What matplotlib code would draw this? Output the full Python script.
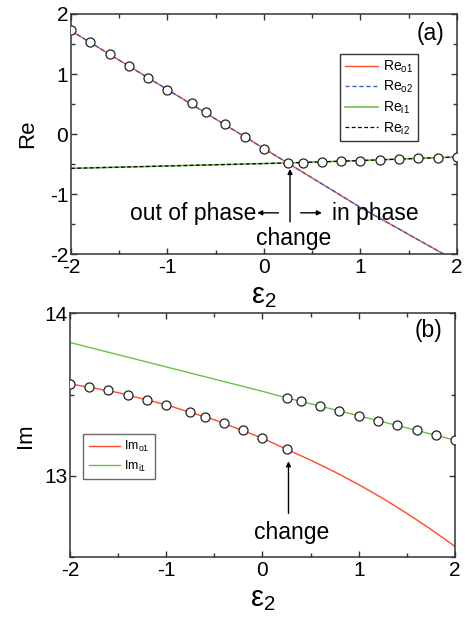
import numpy as np
import matplotlib
matplotlib.use("Agg")
import matplotlib.pyplot as plt
from matplotlib.ticker import MultipleLocator

plt.rcParams['font.family'] = ['Liberation Sans', 'DejaVu Sans']
plt.rcParams['mathtext.default'] = 'regular'
plt.rcParams['axes.unicode_minus'] = False

# panel (a): real parts
a_line_x_o = [-2, -1, 0, 1, 2]
a_line_re_o = [1.72, 0.74, -0.24, -1.22, -2.12]
a_line_x_i = [-2, -1, 0, 0.25, 1, 2]
a_line_re_i = [-0.57, -0.53, -0.49, -0.48, -0.44, -0.38]

a_pts_x_o = [-2, -1.8, -1.6, -1.4, -1.2, -1.0, -0.75, -0.6, -0.4, -0.2, 0, 0.25]
a_pts_re_o = [1.73, 1.54, 1.34, 1.14, 0.94, 0.74, 0.51, 0.36, 0.16, -0.04, -0.24, -0.48]
a_pts_x_i = [0.4, 0.6, 0.8, 1.0, 1.2, 1.4, 1.6, 1.8, 2.0]
a_pts_re_i = [-0.48, -0.47, -0.45, -0.44, -0.43, -0.41, -0.40, -0.39, -0.38]

# panel (b): imaginary parts
b_line_x_o = [-2, -1.5, -1, -0.5, 0, 0.25, 0.5, 0.75, 1, 1.25, 1.5, 1.75, 2]
b_line_im_o = [13.566, 13.512, 13.437, 13.345, 13.232, 13.164, 13.097, 13.025,
               12.947, 12.862, 12.770, 12.672, 12.567]
b_line_x_i = [-2, -1, 0, 0.25, 1, 2]
b_line_im_i = [13.82, 13.67, 13.52, 13.48, 13.37, 13.22]

b_pts_x_o = [-2, -1.8, -1.6, -1.4, -1.2, -1.0, -0.75, -0.6, -0.4, -0.2, 0, 0.25]
b_pts_im_o = [13.566, 13.545, 13.527, 13.498, 13.469, 13.437, 13.395, 13.365,
              13.324, 13.281, 13.232, 13.164]
b_pts_x_i = [0.25, 0.4, 0.6, 0.8, 1.0, 1.2, 1.4, 1.6, 1.8, 2.0]
b_pts_im_i = [13.48, 13.46, 13.43, 13.40, 13.37, 13.34, 13.31, 13.28, 13.25, 13.22]

red = '#ff4a26'
green = '#6cbf4a'
blue = '#3a62c4'
frame = '#333333'

fig = plt.figure(figsize=(4.65, 6.18), dpi=100)
ax1 = fig.add_axes([0.1527, 0.5885, 0.830, 0.389])
ax2 = fig.add_axes([0.1505, 0.0982, 0.828, 0.395])


def style_axes(ax):
    for s in ax.spines.values():
        s.set_color(frame)
        s.set_linewidth(1.1)
    ax.set_xlim(-2, 2)
    ax.xaxis.set_major_locator(MultipleLocator(1))
    ax.xaxis.set_minor_locator(MultipleLocator(0.5))
    ax.tick_params(which='both', direction='in', top=True, right=True,
                   color=frame, labelsize=15, pad=2)
    ax.tick_params(axis='x', which='major', pad=3)
    ax.tick_params(which='major', length=4.5, width=1)
    ax.tick_params(which='minor', length=3, width=1)
    ax.set_xlabel('$\\mathregular{ε_2}$', fontsize=21, labelpad=3)


mk = dict(ls='none', marker='o', ms=6.5, mfc='white', mec='#222222', mew=0.9, zorder=5)

# (a)
ax1.plot(a_line_x_o, a_line_re_o, color=red, lw=1, label='Re$_{o1}$')
ax1.plot(a_line_x_o, a_line_re_o, color=blue, lw=1, ls=(0, (3, 2)), label='Re$_{o2}$')
ax1.plot(a_line_x_i, a_line_re_i, color=green, lw=1.2, label='Re$_{i1}$')
ax1.plot(a_line_x_i, a_line_re_i, color='black', lw=0.9, ls=(0, (3, 2)), label='Re$_{i2}$')
ax1.plot(a_pts_x_o, a_pts_re_o, **mk)
ax1.plot(a_pts_x_i, a_pts_re_i, **mk)
style_axes(ax1)
ax1.set_ylim(-2, 2)
ax1.yaxis.set_major_locator(MultipleLocator(1))
ax1.yaxis.set_minor_locator(MultipleLocator(0.5))
ax1.set_ylabel('Re', fontsize=16, labelpad=8)
ax1.text(1.73, 1.68, '(a)', fontsize=16.5, ha='center', va='center')
ax1.legend(loc='upper left', bbox_to_anchor=(0.6975, 0.835), fontsize=10,
           frameon=True, fancybox=False, edgecolor='black', handlelength=2.4,
           handletextpad=0.3, labelspacing=0.3, borderpad=0.35, borderaxespad=0)

arw = dict(arrowstyle='-|>', color='black', lw=1, mutation_scale=7, shrinkA=0, shrinkB=0)
ax1.annotate('', xy=(0.27, -0.58), xytext=(0.27, -1.46), arrowprops=arw)
ax1.annotate('', xy=(-0.07, -1.31), xytext=(0.15, -1.31), arrowprops=arw)
ax1.annotate('', xy=(0.6, -1.31), xytext=(0.38, -1.31), arrowprops=arw)
ax1.text(-0.08, -1.32, 'out of phase', fontsize=16.5, ha='right', va='center')
ax1.text(0.71, -1.32, 'in phase', fontsize=16.5, ha='left', va='center')
ax1.text(0.31, -1.74, 'change', fontsize=16.5, ha='center', va='center')

# (b)
ax2.plot(b_line_x_o, b_line_im_o, color=red, lw=1, label='Im$_{o1}$')
ax2.plot(b_line_x_i, b_line_im_i, color=green, lw=1, label='Im$_{i1}$')
ax2.plot(b_pts_x_o, b_pts_im_o, **mk)
ax2.plot(b_pts_x_i, b_pts_im_i, **mk)
style_axes(ax2)
ax2.set_ylim(12.5, 14)
ax2.yaxis.set_major_locator(MultipleLocator(1))
ax2.yaxis.set_minor_locator(MultipleLocator(0.5))
ax2.set_ylabel('Im', fontsize=16, labelpad=6)
ax2.text(1.72, 13.895, '(b)', fontsize=16.5, ha='center', va='center')
ax2.legend(loc='upper left', bbox_to_anchor=(0.035, 0.507), fontsize=9,
           frameon=True, fancybox=False, edgecolor='#444444', handlelength=2.5,
           handletextpad=0.3, labelspacing=0.35, borderpad=0.45, borderaxespad=0)
ax2.annotate('', xy=(0.27, 13.09), xytext=(0.27, 12.77), arrowprops=arw)
ax2.text(0.3, 12.65, 'change', fontsize=16.5, ha='center', va='center')

fig.savefig('out.png', dpi=100)
